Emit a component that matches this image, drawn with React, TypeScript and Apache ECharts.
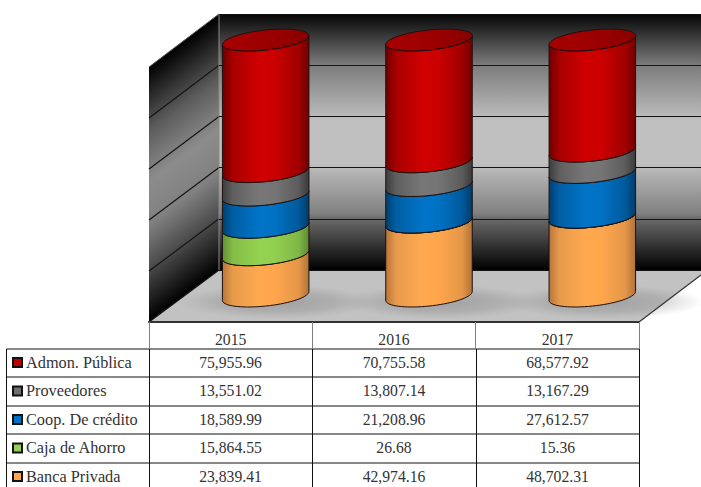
import React, { useEffect, useRef } from "react";
import * as echarts from "echarts";

const years = ["2015", "2016", "2017"];
const labels = ["Admon. Pública", "Proveedores", "Coop. De crédito", "Caja de Ahorro", "Banca Privada"];
const admon = [75955.96, 70755.58, 68577.92];
const proveedores = [13551.02, 13807.14, 13167.29];
const coop = [18589.99, 21208.96, 27612.57];
const caja = [15864.55, 26.68, 15.36];
const banca = [23839.41, 42974.16, 48702.31];
const rows = [admon, proveedores, coop, caja, banca];
const swatches = ["#c00000", "#6e6e6e", "#0070c0", "#92d050", "#ffa64d"];
const axisTicks = [0, 20, 40, 60, 80, 100];

const shades = [
  ["#6e0000", "#a80000", "#cf0000", "#cc0000", "#a00000", "#700000"],
  ["#3c3c3c", "#5f5f5f", "#777777", "#757575", "#5c5c5c", "#3a3a3a"],
  ["#003f70", "#005ea3", "#0074c8", "#0072c4", "#005a9c", "#003c6a"],
  ["#638f35", "#84bd48", "#94d250", "#92d050", "#80b746", "#5f8a33"],
  ["#b8763a", "#e79a4b", "#ffa94f", "#ffa64d", "#e49748", "#b27238"],
];

const FONT = '"Liberation Serif", "Times New Roman", serif';
const A = 43.5;
const B = 10;
const PHI = (-6.2 * Math.PI) / 180;

function ellipsePoint(cx: number, cy: number, t: number) {
  const ct = Math.cos(t), st = Math.sin(t);
  return [
    cx + A * ct * Math.cos(PHI) - B * st * Math.sin(PHI),
    cy + A * ct * Math.sin(PHI) + B * st * Math.cos(PHI),
  ];
}
const T0 = Math.atan2(-B * Math.sin(PHI), A * Math.cos(PHI));

function frontArc(cx: number, cy: number, reverse: boolean) {
  const pts: number[][] = [];
  const n = 36;
  for (let i = 0; i <= n; i++) {
    const k = reverse ? n - i : i;
    pts.push(ellipsePoint(cx, cy, T0 + Math.PI - (Math.PI * k) / n));
  }
  return pts;
}

function bodyGradient(c: string[]) {
  return new echarts.graphic.LinearGradient(0, 0, 1, 0, [
    { offset: 0, color: c[0] },
    { offset: 0.12, color: c[1] },
    { offset: 0.42, color: c[2] },
    { offset: 0.6, color: c[3] },
    { offset: 0.88, color: c[4] },
    { offset: 1, color: c[5] },
  ]);
}

function makeRenderItem(layer: number, isTop: boolean) {
  return (_params: any, api: any) => {
    const cat = api.value(0);
    const lo = api.coord([cat, api.value(1)]);
    const hi = api.coord([cat, api.value(2)]);
    const cx = lo[0];
    const stroke = "#1c1010";
    const points = [...frontArc(cx, lo[1], false), ...frontArc(cx, hi[1], true)];
    const children: any[] = [
      {
        type: "polygon",
        shape: { points },
        style: { fill: bodyGradient(shades[layer]), stroke, lineWidth: 1 },
      },
    ];
    if (isTop) {
      const top: number[][] = [];
      for (let i = 0; i < 72; i++) top.push(ellipsePoint(cx, hi[1], (i * 2 * Math.PI) / 72));
      children.push({
        type: "polygon",
        shape: { points: top },
        style: {
          fill: new echarts.graphic.LinearGradient(0, 0, 1, 0, [
            { offset: 0, color: "#a80000" },
            { offset: 0.6, color: "#9a0000" },
            { offset: 1, color: "#860000" },
          ]),
          stroke,
          lineWidth: 1,
        },
      });
    }
    return { type: "group", children };
  };
}

function fmt(v: number) {
  return v.toLocaleString("en-US", { minimumFractionDigits: 2, maximumFractionDigits: 2 });
}

function wallGraphics() {
  const out: any[] = [];
  out.push({
    type: "rect",
    shape: { x: 219, y: 14, width: 482, height: 256 },
    style: {
      fill: new echarts.graphic.LinearGradient(0, 0, 0, 1, [
        { offset: 0, color: "#050505" },
        { offset: 0.2, color: "#7c7c7c" },
        { offset: 0.42, color: "#c0c0c0" },
        { offset: 0.58, color: "#c0c0c0" },
        { offset: 0.78, color: "#808080" },
        { offset: 0.8, color: "#6a6a6a" },
        { offset: 1, color: "#000000" },
      ]),
    },
  });
  const left = new echarts.graphic.LinearGradient(
    149, 67, 271, 231.5,
    [
      { offset: 0, color: "#000000" },
      { offset: 0.25, color: "#5c5c5c" },
      { offset: 0.45, color: "#8c8c8c" },
      { offset: 0.62, color: "#808080" },
      { offset: 0.8, color: "#484848" },
      { offset: 1, color: "#000000" },
    ],
    true
  );
  out.push({
    type: "polygon",
    shape: { points: [[149, 67], [219, 14], [219, 270], [149, 322]] },
    style: { fill: left },
  });
  out.push({
    type: "polygon",
    shape: { points: [[149, 322], [219, 270], [701, 270], [701, 275], [639, 322]] },
    style: { fill: "#c2c2c2" },
  });
  [265, 429, 592].forEach((cx) => {
    out.push({
      type: "ellipse",
      shape: { cx: cx + 12, cy: 302, rx: 100, ry: 17 },
      style: {
        fill: new echarts.graphic.RadialGradient(0.5, 0.5, 0.5, [
          { offset: 0, color: "rgba(120,120,120,0.45)" },
          { offset: 0.6, color: "rgba(130,130,130,0.3)" },
          { offset: 1, color: "rgba(150,150,150,0)" },
        ]),
      },
    });
  });
  axisTicks.forEach((t, i) => {
    if (i === axisTicks.length - 1) {
      out.push({ type: "line", shape: { x1: 149, y1: 67, x2: 219, y2: 14 }, style: { stroke: "#555", lineWidth: 1 } });
      return;
    }
    const frac = t / 100;
    out.push({
      type: "line",
      shape: { x1: 149, y1: 322 - 255 * frac, x2: 219, y2: 270 - 256 * frac },
      style: { stroke: "#141414", lineWidth: 1.2 },
    });
  });
  out.push({ type: "line", shape: { x1: 219, y1: 14, x2: 219, y2: 270 }, style: { stroke: "#8a8a8a", lineWidth: 1 } });
  out.push({ type: "line", shape: { x1: 639, y1: 322, x2: 701, y2: 275 }, style: { stroke: "#333", lineWidth: 1.2 } });
  return out;
}

function tableGraphics() {
  const out: any[] = [];
  const ys = [349, 377, 406, 434, 463];
  const xs = [149, 312, 476, 639];
  const line = (x1: number, y1: number, x2: number, y2: number, stroke = "#111", lineWidth = 1) =>
    out.push({ type: "line", shape: { x1, y1, x2, y2 }, style: { stroke, lineWidth } });
  ys.forEach((y) => line(6.5, y, 639.5, y));
  line(6.5, 349, 6.5, 487);
  xs.forEach((x) => line(x + 0.5, 349, x + 0.5, 487));
  labels.forEach((name, r) => {
    const y = (ys[r] + (ys[r + 1] ?? 491)) / 2 - 1;
    out.push({
      type: "rect",
      shape: { x: 13, y: y - 4, width: 9, height: 9 },
      style: { fill: swatches[r], stroke: "#111", lineWidth: 2 },
    });
    out.push({
      type: "text",
      x: 26,
      y,
      style: { text: name, font: `16.3px ${FONT}`, fill: "#333333", align: "left", verticalAlign: "middle" },
    });
    rows[r].forEach((v, c) => {
      out.push({
        type: "text",
        x: (xs[c] + xs[c + 1]) / 2,
        y,
        style: { text: fmt(v), font: `15.7px ${FONT}`, fill: "#333333", align: "center", verticalAlign: "middle" },
      });
    });
  });
  return out;
}

const order = [4, 3, 2, 1, 0];

export default function App() {
  const ref = useRef<HTMLDivElement>(null);
  useEffect(() => {
    document.body.style.margin = "0";
    const chart = echarts.init(ref.current!, null, { renderer: "svg" });
    const totals = years.map((_, i) => rows.reduce((s, r) => s + r[i], 0));
    const acc = years.map(() => 0);
    const series = order.map((r) => {
      const data = years.map((_, i) => {
        const lo = acc[i];
        acc[i] += (rows[r][i] / totals[i]) * 100;
        return [i, lo, acc[i]];
      });
      return {
        type: "custom",
        name: labels[r],
        xAxisIndex: 1,
        yAxisIndex: 1,
        z: 5,
        clip: false,
        encode: { x: 0, y: [1, 2] },
        renderItem: makeRenderItem(r, r === 0),
        data,
      };
    });
    chart.setOption({
      animation: false,
      backgroundColor: "#ffffff",
      grid: [
        { left: 219, right: 0, top: 14, height: 256 },
        { left: 184, width: 490, top: 40, height: 256 },
        { left: 149, width: 490, top: 321, height: 1 },
      ],
      xAxis: [
        { gridIndex: 0, type: "category", data: years, show: false },
        { gridIndex: 1, type: "category", data: years, show: false },
        {
          gridIndex: 2,
          type: "category",
          data: years,
          z: 3,
          axisLine: { show: true, lineStyle: { color: "#333", width: 2 } },
          axisTick: { show: true, length: 27, lineStyle: { color: "#808080", width: 1 } },
          axisLabel: { margin: 9, fontFamily: FONT, fontSize: 15.7, color: "#333333" },
        },
      ],
      yAxis: [
        {
          gridIndex: 0,
          type: "value",
          min: 0,
          max: 100,
          interval: 20,
          z: 1,
          axisLine: { show: false },
          axisTick: { show: false },
          axisLabel: { show: false },
          splitLine: { show: true, lineStyle: { color: "#141414", width: 1 } },
        },
        { gridIndex: 1, type: "value", min: 0, max: 100, show: false },
        { gridIndex: 2, type: "value", show: false },
      ],
      graphic: { elements: [...wallGraphics(), ...tableGraphics()] },
      series,
    });
    return () => chart.dispose();
  }, []);
  return <div ref={ref} style={{ width: 701, height: 487 }} />;
}
